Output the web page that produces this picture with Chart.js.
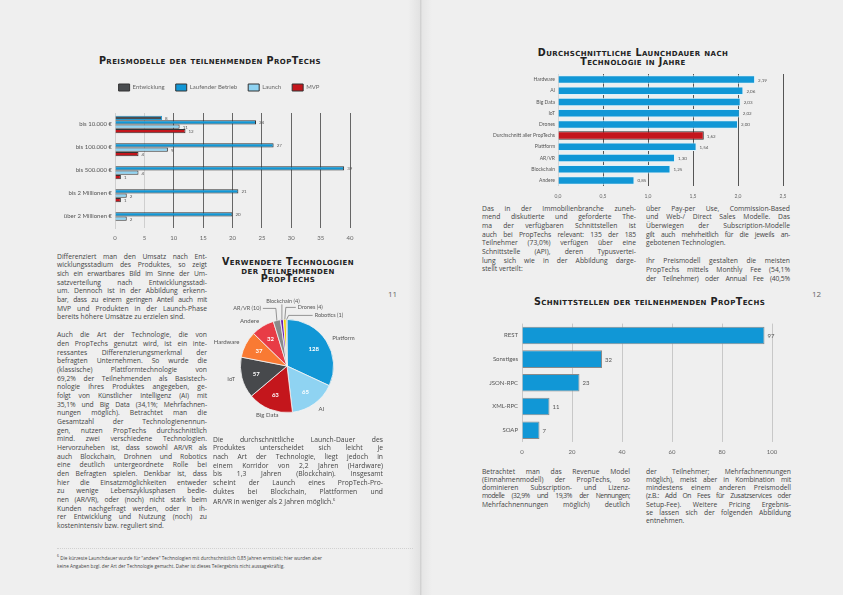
<!DOCTYPE html>
<html lang="de">
<head>
  <meta charset="UTF-8" />
  <title>PropTechs – Preismodelle, Technologien, Schnittstellen</title>
  <script src="https://cdn.jsdelivr.net/npm/chart.js@4.4.0/dist/chart.umd.min.js"></script>
  <style>
    html, body { margin: 0; padding: 0; }
    body { width: 843px; height: 595px; position: relative; overflow: hidden;
           background: #efefef; font-family: "Open Sans", Lato, sans-serif; color: #444; }
    .fold { position: absolute; left: 408px; top: 0; width: 24px; height: 595px;
            background: linear-gradient(to right, #efefef, #e2e2e2 50%, #d2d2d2 52%, #e6e6e6 60%, #efefef); }
    .title { position: absolute; font-family: "DejaVu Sans", sans-serif; font-weight: bold;
             font-variant: small-caps; color: #222; font-size: 9.6px; line-height: 8.6px;
             text-align: center; white-space: nowrap; letter-spacing: 0.4px; }
    .col { position: absolute; font-size: 6.75px; line-height: 8.65px; color: #444; }
    .col div { white-space: nowrap; text-align: justify; text-align-last: justify; }
    .col div.l { text-align-last: left; }
    .col .gap { height: 9.5px; }
    .pn { position: absolute; font-size: 8px; color: #666; }
    .foot { position: absolute; left: 57px; top: 552px; font-size: 4.7px; line-height: 8px; color: #444; white-space: nowrap; }
    .dots { position: absolute; left: 57px; top: 548px; width: 356px; border-top: 1.5px dotted #d0d0d0; }
    canvas { position: absolute; }
  </style>
</head>
<body>
  <div class="fold"></div>

  <!-- Seite 11 -->
  <div class="title" style="left:60px; top:57px; width:300px;">Preismodelle der teilnehmenden PropTechs</div>
  <canvas id="priceChart" width="322" height="172" style="left:58px; top:73px;"></canvas>

  <div class="col" style="left:57px; top:252.7px; width:150px;">
    <div>Differenziert man den Umsatz nach Ent-</div>
    <div>wicklungsstadium des Produktes, so zeigt</div>
    <div style="letter-spacing:-0.1px">sich ein erwartbares Bild im Sinne der Um-</div>
    <div>satzverteilung nach Entwicklungsstadi-</div>
    <div>um. Dennoch ist in der Abbildung erkenn-</div>
    <div style="letter-spacing:-0.2px">bar, dass zu einem geringen Anteil auch mit</div>
    <div>MVP und Produkten in der Launch-Phase</div>
    <div class="l">bereits höhere Umsätze zu erzielen sind.</div>
    <div class="gap"></div>
    <div>Auch die Art der Technologie, die von</div>
    <div>den PropTechs genutzt wird, ist ein inte-</div>
    <div>ressantes Differenzierungsmerkmal der</div>
    <div>befragten Unternehmen. So wurde die</div>
    <div>(klassische) Plattformtechnologie von</div>
    <div>69,2% der Teilnehmenden als Basistech-</div>
    <div>nologie ihres Produktes angegeben, ge-</div>
    <div style="letter-spacing:-0.1px">folgt von Künstlicher Intelligenz (AI) mit</div>
    <div style="letter-spacing:-0.1px">35,1% und Big Data (34,1%; Mehrfachnen-</div>
    <div>nungen möglich). Betrachtet man die</div>
    <div>Gesamtzahl der Technologienennun-</div>
    <div>gen, nutzen PropTechs durchschnittlich</div>
    <div>mind. zwei verschiedene Technologien.</div>
    <div style="letter-spacing:-0.1px">Hervorzuheben ist, dass sowohl AR/VR als</div>
    <div>auch Blockchain, Drohnen und Robotics</div>
    <div>eine deutlich untergeordnete Rolle bei</div>
    <div>den Befragten spielen. Denkbar ist, dass</div>
    <div>hier die Einsatzmöglichkeiten entweder</div>
    <div>zu wenige Lebenszyklusphasen bedie-</div>
    <div style="letter-spacing:-0.1px">nen (AR/VR), oder (noch) nicht stark beim</div>
    <div>Kunden nachgefragt werden, oder in ih-</div>
    <div>rer Entwicklung und Nutzung (noch) zu</div>
    <div class="l">kostenintensiv bzw. reguliert sind.</div>
  </div>

  <div class="title" style="left:213px; top:258px; width:150px;">Verwendete Technologien<br>der teilnehmenden<br>PropTechs</div>
  <canvas id="techChart" width="200" height="150" style="left:187px; top:291px;"></canvas>

  <div class="col" style="left:213px; top:435.7px; width:170px;">
    <div>Die durchschnittliche Launch-Dauer des</div>
    <div>Produktes unterscheidet sich leicht je</div>
    <div>nach Art der Technologie, liegt jedoch in</div>
    <div>einem Korridor von 2,2 Jahren (Hardware)</div>
    <div>bis 1,3 Jahren (Blockchain). Insgesamt</div>
    <div>scheint der Launch eines PropTech-Pro-</div>
    <div>duktes bei Blockchain, Plattformen und</div>
    <div class="l">AR/VR in weniger als 2 Jahren möglich.<sup style="font-size:4px">6</sup></div>
  </div>

  <div class="pn" style="left:388px; top:288px;">11</div>
  <div class="dots"></div>
  <div class="foot"><sup style="font-size:3.5px">6</sup> Die kürzeste Launchdauer wurde für "andere" Technologien mit durchschnittlich 0,85 Jahren ermittelt; hier wurden aber<br>keine Angaben bzgl. der Art der Technologie gemacht. Daher ist dieses Teilergebnis nicht aussagekräftig.</div>

  <!-- Seite 12 -->
  <div class="title" style="left:533px; top:49px; width:200px;">Durchschnittliche Launchdauer nach<br>Technologie in Jahre</div>
  <canvas id="launchChart" width="325" height="135" style="left:475px; top:68px;"></canvas>

  <div class="col" style="left:482px; top:204.7px; width:154px;">
    <div>Das in der Immobilienbranche zuneh-</div>
    <div>mend diskutierte und geforderte The-</div>
    <div>ma der verfügbaren Schnittstellen ist</div>
    <div style="letter-spacing:-0.1px">auch bei PropTechs relevant: 135 der 185</div>
    <div>Teilnehmer (73,0%) verfügen über eine</div>
    <div>Schnittstelle (API), deren Typusvertei-</div>
    <div>lung sich wie in der Abbildung darge-</div>
    <div class="l">stellt verteilt:</div>
  </div>
  <div class="col" style="left:646px; top:204.7px; width:144px;">
    <div>über Pay-per Use, Commission-Based</div>
    <div>und Web-/ Direct Sales Modelle. Das</div>
    <div>Überwiegen der Subscription-Modelle</div>
    <div style="letter-spacing:-0.25px">gilt auch mehrheitlich für die jeweils an-</div>
    <div class="l">gebotenen Technologien.</div>
    <div class="gap"></div>
    <div>Ihr Preismodell gestalten die meisten</div>
    <div>PropTechs mittels Monthly Fee (54,1%</div>
    <div style="letter-spacing:-0.15px">der Teilnehmer) oder Annual Fee (40,5%</div>
  </div>

  <div class="pn" style="left:812px; top:288px;">12</div>

  <div class="title" style="left:534px; top:298px; width:200px;">Schnittstellen der teilnehmenden PropTechs</div>
  <canvas id="apiChart" width="325" height="146" style="left:475px; top:316px;"></canvas>

  <div class="col" style="left:482px; top:467.5px; width:148px; line-height:8.3px;">
    <div>Betrachtet man das Revenue Model</div>
    <div>(Einnahmenmodell) der PropTechs, so</div>
    <div>dominieren Subscription- und Lizenz-</div>
    <div style="letter-spacing:-0.45px">modelle (32,9% und 19,3% der Nennungen;</div>
    <div>Mehrfachnennungen möglich) deutlich</div>
  </div>
  <div class="col" style="left:646px; top:467.5px; width:145px; line-height:8.3px;">
    <div>der Teilnehmer; Mehrfachnennungen</div>
    <div style="letter-spacing:-0.1px">möglich), meist aber in Kombination mit</div>
    <div>mindestens einem anderen Preismodell</div>
    <div style="letter-spacing:-0.3px">(z.B.: Add On Fees für Zusatzservices oder</div>
    <div>Setup-Fee). Weitere Pricing Ergebnis-</div>
    <div>se lassen sich der folgenden Abbildung</div>
    <div class="l">entnehmen.</div>
  </div>

  <script>
    // Preismodelle nach Umsatz
    const priceCategories = ['bis 10.000 €', 'bis 100.000 €', 'bis 500.000 €', 'bis 2 Millionen €', 'über 2 Millionen €'];
    const priceSeries = ['Entwicklung', 'Laufender Betrieb', 'Launch', 'MVP'];
    const entwicklung = [8, null, null, null, null];
    const laufenderBetrieb = [24, 27, 39, 21, 20];
    const launch = [11, 9, 4, 2, 2];
    const mvp = [12, 4, 1, 1, null];
    const priceTicks = [0, 5, 10, 15, 20, 25, 30, 35, 40];

    // Verwendete Technologien
    const techLabels = ['Platform', 'AI', 'Big Data', 'IoT', 'Hardware', 'Andere', 'AR/VR', 'Blockchain', 'Drones', 'Robotics'];
    const techValues = [128, 65, 63, 57, 37, 32, 10, 4, 4, 1];

    // Launchdauer in Jahren
    const launchLabels = ['Hardware', 'AI', 'Big Data', 'IoT', 'Drones', 'Durchschnitt aller PropTechs', 'Plattform', 'AR/VR', 'Blockchain', 'Andere'];
    const launchYears = [2.19, 2.06, 2.03, 2.02, 2.00, 1.62, 1.54, 1.30, 1.25, 0.85];

    // Schnittstellen
    const apiLabels = ['REST', 'Sonstiges', 'JSON-RPC', 'XML-RPC', 'SOAP'];
    const apiValues = [97, 32, 23, 11, 7];

    const BLUE = '#1197d6';
    const FONT = 'Lato, "Open Sans", sans-serif';
    Chart.defaults.font.family = FONT;
    Chart.defaults.color = '#666';

    const deNum = (v, d) => v.toFixed(d).replace('.', ',');

    function valueLabels(fmt, size, color) {
      return {
        id: 'valueLabels',
        afterDatasetsDraw(chart) {
          const ctx = chart.ctx;
          ctx.save();
          ctx.font = size + 'px ' + FONT;
          ctx.fillStyle = color;
          ctx.textBaseline = 'middle';
          chart.data.datasets.forEach((ds, i) => {
            const meta = chart.getDatasetMeta(i);
            meta.data.forEach((el, j) => {
              const v = ds.data[j];
              if (v == null) return;
              ctx.fillText(fmt(v), el.x + 3, el.y + 0.5);
            });
          });
          ctx.restore();
        }
      };
    }

    // Legende höher machen und etwas nach rechts schieben
    const legendTweak = {
      id: 'legendTweak',
      beforeInit(chart) {
        const fit = chart.legend.fit;
        chart.legend.fit = function () { fit.bind(chart.legend)(); this.height = 40; };
      },
      afterLayout(chart) {
        chart.legend.left += 15;
        chart.legend.right += 15;
      }
    };

    // --- Chart 1: Preismodelle
    new Chart(document.getElementById('priceChart'), {
      type: 'bar',
      data: {
        labels: priceCategories,
        datasets: [
          { label: priceSeries[0], data: entwicklung, backgroundColor: '#4a4d50', borderColor: '#2a9ad0' },
          { label: priceSeries[1], data: laufenderBetrieb, backgroundColor: BLUE, borderColor: '#333' },
          { label: priceSeries[2], data: launch, backgroundColor: '#8fd3f2', borderColor: '#333' },
          { label: priceSeries[3], data: mvp, backgroundColor: '#c4161c', borderColor: '#333' }
        ]
      },
      options: {
        indexAxis: 'y',
        responsive: false,
        animation: false,
        layout: { padding: { right: 30 } },
        datasets: { bar: { borderWidth: 1, barPercentage: 0.95, categoryPercentage: 0.78 } },
        scales: {
          x: {
            min: 0, max: 40,
            afterBuildTicks: s => { s.ticks = priceTicks.map(v => ({ value: v })); },
            afterFit: s => { s.height = 17; },
            grid: { color: c => (c.tick && c.tick.value <= 5 ? '#cfcfcf' : '#666'), drawTicks: false },
            border: { display: false },
            ticks: { padding: 6, font: { size: 6 }, color: '#666' }
          },
          y: {
            afterFit: s => { s.width = 57; },
            grid: { display: false, drawTicks: false },
            border: { color: '#cfcfcf' },
            ticks: { padding: 3, font: { size: 6 }, color: '#555' }
          }
        },
        plugins: {
          legend: {
            position: 'top',
            labels: { boxWidth: 11, boxHeight: 7, padding: 11, font: { size: 6 }, color: '#666',
                      generateLabels: ch => ch.data.datasets.map((d, i) => ({
                        text: d.label, fillStyle: d.backgroundColor, strokeStyle: '#333', lineWidth: 1,
                        fontColor: '#666', datasetIndex: i, hidden: false })) }
          },
          tooltip: { enabled: false }
        }
      },
      plugins: [valueLabels(v => String(v), 4.5, '#555'), legendTweak]
    });

    // --- Chart 2: Technologien (Kreis)
    const techColors = ['#1197d6', '#8fd3f2', '#c4161c', '#47494c', '#f97a33', '#e83c46', '#8a8a8a', '#6a1fb0', '#f2d400', '#2b2b2b'];
    const pieLabels = {
      id: 'pieLabels',
      afterDatasetsDraw(chart) {
        const ctx = chart.ctx;
        const meta = chart.getDatasetMeta(0);
        const vals = chart.data.datasets[0].data;
        ctx.save();
        ctx.textBaseline = 'middle';
        let k = 0;
        meta.data.forEach((el, i) => {
          const a = (el.startAngle + el.endAngle) / 2;
          const r = el.outerRadius, cx = el.x, cy = el.y;
          const v = vals[i];
          if (v >= 15) {
            // Wert im Segment
            ctx.font = 'bold 6px ' + FONT;
            ctx.fillStyle = '#fff';
            ctx.textAlign = 'center';
            ctx.fillText(v, cx + Math.cos(a) * r * 0.68, cy + Math.sin(a) * r * 0.68);
            // Beschriftung außen
            const lx = cx + Math.cos(a) * (r + 7), ly = cy + Math.sin(a) * (r + 6);
            ctx.font = '6px ' + FONT;
            ctx.fillStyle = '#555';
            const c = Math.cos(a);
            ctx.textAlign = Math.abs(c) < 0.45 ? 'center' : (c > 0 ? 'left' : 'right');
            ctx.fillText(chart.data.labels[i], lx, ly);
          } else {
            const ax = cx + Math.cos(a) * r, ay = cy + Math.sin(a) * r;
            const txt = chart.data.labels[i] + ' (' + v + ')';
            ctx.font = '5.5px ' + FONT;
            ctx.fillStyle = '#555';
            ctx.strokeStyle = '#555';
            ctx.lineWidth = 0.6;
            ctx.beginPath();
            ctx.moveTo(ax, ay);
            let tx, ty;
            if (k === 0) {
              ty = cy - r - 11; ctx.lineTo(ax - 1, ty); ctx.lineTo(ax - 14, ty);
              tx = ax - 16; ctx.textAlign = 'right';
            } else if (k === 1) {
              ty = cy - r - 18; ctx.lineTo(ax, ty + 3);
              tx = ax + 1; ctx.textAlign = 'center';
            } else if (k === 2) {
              ty = cy - r - 12; ctx.lineTo(ax + 1, ty); ctx.lineTo(ax + 11, ty);
              tx = ax + 13; ctx.textAlign = 'left';
            } else {
              ty = cy - r - 4; ctx.lineTo(ax + 2, ty); ctx.lineTo(ax + 26, ty);
              tx = ax + 28; ctx.textAlign = 'left';
            }
            ctx.stroke();
            ctx.fillText(txt, tx, ty);
            k++;
          }
        });
        ctx.restore();
      }
    };
    new Chart(document.getElementById('techChart'), {
      type: 'pie',
      data: {
        labels: techLabels,
        datasets: [{ data: techValues, backgroundColor: techColors, borderColor: '#f4f4f4', borderWidth: 0.8 }]
      },
      options: {
        responsive: false,
        animation: false,
        layout: { padding: { top: 28, bottom: 28, left: 53, right: 53 } },
        plugins: { legend: { display: false }, tooltip: { enabled: false } }
      },
      plugins: [pieLabels]
    });

    // --- Chart 3: Launchdauer
    new Chart(document.getElementById('launchChart'), {
      type: 'bar',
      data: {
        labels: launchLabels,
        datasets: [{
          data: launchYears,
          backgroundColor: launchLabels.map(l => l.startsWith('Durchschnitt') ? '#c4161c' : BLUE),
          borderColor: launchLabels.map(l => l.startsWith('Durchschnitt') ? '#333' : '#dff2fb'),
          borderWidth: 1, barPercentage: 0.76, categoryPercentage: 1
        }]
      },
      options: {
        indexAxis: 'y',
        responsive: false,
        animation: false,
        layout: { padding: { right: 17, top: 6 } },
        scales: {
          x: {
            min: 0, max: 2.5,
            ticks: { stepSize: 0.5, padding: 7, font: { size: 5 }, color: '#666', callback: v => deNum(v, 1) },
            afterFit: s => { s.height = 17; },
            grid: { color: c => (c.tick && c.tick.value === 0 ? '#d5d5d5' : '#555'), drawTicks: false },
            border: { display: false }
          },
          y: {
            afterFit: s => { s.width = 83; },
            grid: { display: false, drawTicks: false },
            border: { display: false },
            ticks: { padding: 3, font: { size: 5 }, color: '#555' }
          }
        },
        plugins: { legend: { display: false }, tooltip: { enabled: false } }
      },
      plugins: [valueLabels(v => deNum(v, 2), 4.5, '#555')]
    });

    // --- Chart 4: Schnittstellen
    new Chart(document.getElementById('apiChart'), {
      type: 'bar',
      data: {
        labels: apiLabels,
        datasets: [{ data: apiValues, backgroundColor: BLUE, borderColor: '#8a8a8a', borderWidth: 1,
                     barPercentage: 0.74, categoryPercentage: 1 }]
      },
      options: {
        indexAxis: 'y',
        responsive: false,
        animation: false,
        layout: { padding: { right: 28, top: 6 } },
        scales: {
          x: {
            min: 0, max: 100,
            ticks: { stepSize: 20, padding: 6, font: { size: 6 }, color: '#666' },
            afterFit: s => { s.height = 20; },
            grid: { color: '#c8c8c8', drawTicks: false },
            border: { display: false }
          },
          y: {
            afterFit: s => { s.width = 47; },
            grid: { display: false, drawTicks: false },
            border: { display: false },
            ticks: { padding: 4, font: { size: 6 }, color: '#555' }
          }
        },
        plugins: { legend: { display: false }, tooltip: { enabled: false } }
      },
      plugins: [valueLabels(v => String(v), 6, '#555')]
    });
  </script>
</body>
</html>
